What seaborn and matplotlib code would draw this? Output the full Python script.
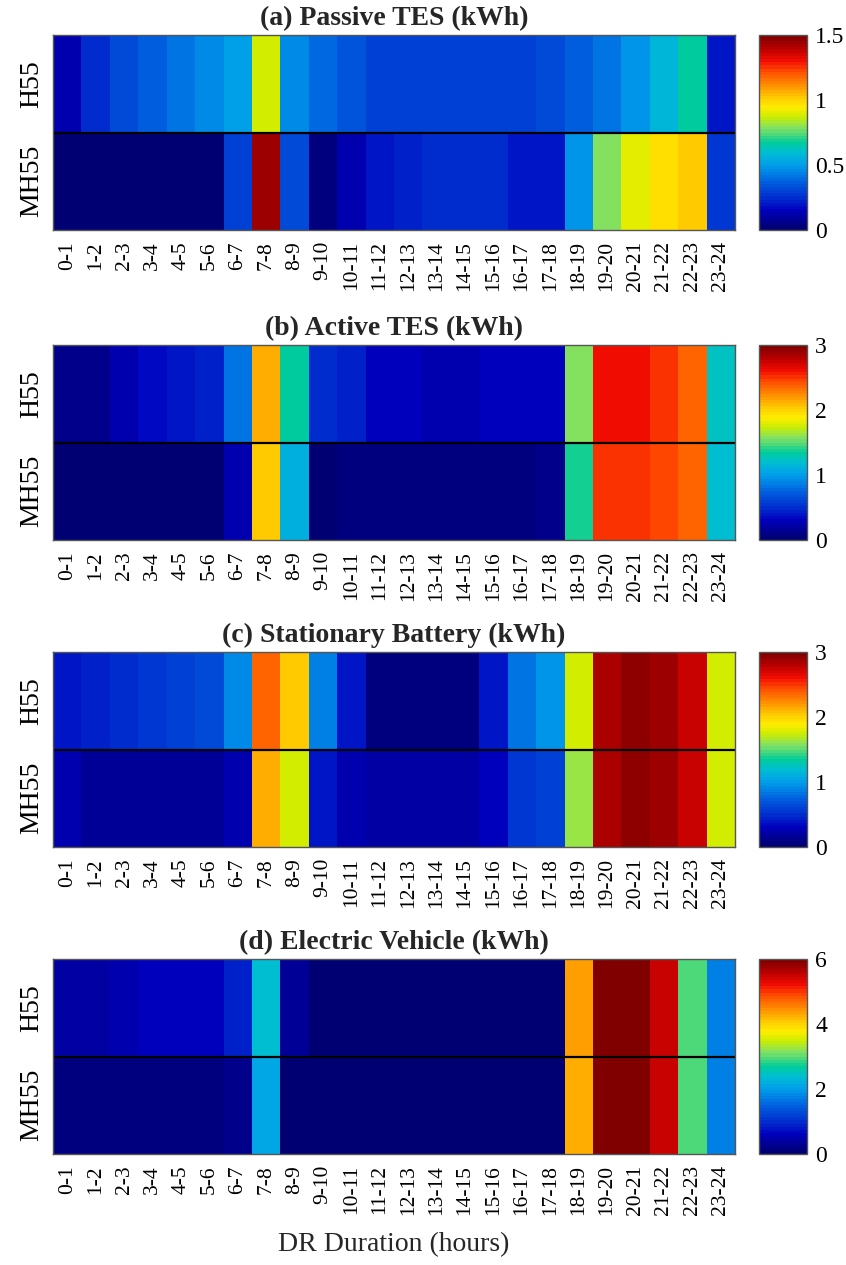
import numpy as np
import pandas as pd
import seaborn as sns
import matplotlib
matplotlib.use("Agg")
import matplotlib.pyplot as plt
from matplotlib.colors import LinearSegmentedColormap

sns.set_theme(style="white")
plt.rcParams["font.family"] = ["Liberation Serif", "DejaVu Serif"]

hours = ["0-1", "1-2", "2-3", "3-4", "4-5", "5-6", "6-7", "7-8", "8-9", "9-10",
         "10-11", "11-12", "12-13", "13-14", "14-15", "15-16", "16-17", "17-18",
         "18-19", "19-20", "20-21", "21-22", "22-23", "23-24"]
cases = ["H55", "MH55"]

passive_h55 = [0.14, 0.24, 0.31, 0.37, 0.42, 0.46, 0.50, 0.88, 0.45, 0.38, 0.34, 0.30,
               0.29, 0.29, 0.29, 0.30, 0.30, 0.31, 0.36, 0.42, 0.47, 0.58, 0.66, 0.20]
passive_mh55 = [0.01, 0.01, 0.01, 0.01, 0.01, 0.01, 0.29, 1.45, 0.31, 0.03, 0.13, 0.20,
                0.23, 0.24, 0.25, 0.25, 0.20, 0.20, 0.47, 0.78, 0.90, 0.97, 1.03, 0.26]

active_h55 = [0.10, 0.12, 0.25, 0.35, 0.40, 0.45, 0.82, 2.15, 1.35, 0.50, 0.45, 0.30,
              0.30, 0.28, 0.28, 0.32, 0.30, 0.30, 1.56, 2.62, 2.62, 2.50, 2.35, 1.23]
active_mh55 = [0.03, 0.03, 0.03, 0.03, 0.03, 0.03, 0.28, 2.02, 1.08, 0.04, 0.05, 0.05,
               0.05, 0.06, 0.06, 0.07, 0.09, 0.10, 1.40, 2.50, 2.50, 2.47, 2.35, 1.20]

battery_h55 = [0.42, 0.45, 0.50, 0.55, 0.60, 0.65, 0.90, 2.35, 2.05, 0.85, 0.40, 0.05,
               0.05, 0.05, 0.05, 0.42, 0.80, 0.95, 1.78, 2.85, 2.93, 2.88, 2.75, 1.78]
battery_mh55 = [0.27, 0.17, 0.17, 0.17, 0.17, 0.17, 0.24, 2.15, 1.78, 0.42, 0.27, 0.19,
                0.19, 0.19, 0.19, 0.32, 0.52, 0.58, 1.62, 2.85, 2.93, 2.88, 2.75, 1.78]

ev_h55 = [0.40, 0.45, 0.50, 0.60, 0.65, 0.65, 0.85, 2.40, 0.30, 0.05, 0.05, 0.05,
          0.05, 0.05, 0.05, 0.05, 0.05, 0.05, 4.40, 6.00, 6.00, 5.50, 2.95, 1.70]
ev_mh55 = [0.15, 0.18, 0.18, 0.18, 0.18, 0.18, 0.25, 2.15, 0.05, 0.05, 0.05, 0.05,
           0.05, 0.05, 0.05, 0.05, 0.05, 0.05, 4.30, 6.00, 6.00, 5.50, 2.95, 1.70]

titles = ["(a) Passive TES (kWh)", "(b) Active TES (kWh)",
          "(c) Stationary Battery (kWh)", "(d) Electric Vehicle (kWh)"]
vmaxes = [1.5, 3, 3, 6]
cbar_ticks = [[0, 0.5, 1, 1.5], [0, 1, 2, 3], [0, 1, 2, 3], [0, 2, 4, 6]]
cbar_labels = [["0", "0.5", "1", "1.5"], ["0", "1", "2", "3"],
               ["0", "1", "2", "3"], ["0", "2", "4", "6"]]
panels = [(passive_h55, passive_mh55), (active_h55, active_mh55),
          (battery_h55, battery_mh55), (ev_h55, ev_mh55)]

# jet-like colormap, as it appears (softened) in the reference
cmap_anchors = [
    (0.00, (0.00, 0.00, 0.45)),
    (0.10, (0.00, 0.00, 0.75)),
    (0.15, (0.00, 0.15, 0.80)),
    (0.25, (0.00, 0.40, 0.88)),
    (0.33, (0.00, 0.62, 0.92)),
    (0.40, (0.00, 0.75, 0.82)),
    (0.45, (0.00, 0.80, 0.60)),
    (0.52, (0.50, 0.88, 0.40)),
    (0.58, (0.80, 0.93, 0.00)),
    (0.63, (1.00, 0.93, 0.00)),
    (0.68, (1.00, 0.80, 0.00)),
    (0.75, (1.00, 0.55, 0.00)),
    (0.82, (1.00, 0.30, 0.00)),
    (0.87, (0.95, 0.05, 0.00)),
    (0.93, (0.75, 0.00, 0.00)),
    (1.00, (0.50, 0.00, 0.00)),
]
cmap = LinearSegmentedColormap.from_list("softjet", cmap_anchors, N=64)

W, H = 846, 1265
fig = plt.figure(figsize=(W / 100, H / 100), dpi=100)

tops_px = [35, 345, 652, 959]
hm_left, hm_right = 53, 735
cb_left, cb_right = 759, 807
hm_h = 195

for i, (h55, mh55) in enumerate(panels):
    top = tops_px[i]
    bottom = 1 - (top + hm_h) / H
    ax = fig.add_axes([hm_left / W, bottom, (hm_right - hm_left) / W, hm_h / H])
    cax = fig.add_axes([cb_left / W, bottom, (cb_right - cb_left) / W, hm_h / H])
    df = pd.DataFrame([h55, mh55], index=cases, columns=hours)
    sns.heatmap(df, ax=ax, cbar_ax=cax, cmap=cmap, vmin=0, vmax=vmaxes[i],
                cbar_kws={"ticks": cbar_ticks[i]})
    ax.axhline(1, color="black", lw=1.6)
    for sp in ax.spines.values():
        sp.set_visible(True)
        sp.set_color("#555555")
        sp.set_linewidth(1.0)
    ax.set_title(titles[i], fontsize=20, fontweight="bold", pad=7)
    ax.set_xlabel("")
    ax.set_ylabel("")
    ax.set_xticks(np.arange(24) + 0.5)
    ax.set_xticklabels(hours, rotation=90, fontsize=15.5)
    ax.set_yticks([0.5, 1.5])
    ax.set_yticklabels(cases, rotation=90, va="center", fontsize=20)
    ax.tick_params(axis="both", length=0, colors="black")
    ax.tick_params(axis="x", pad=8)
    ax.tick_params(axis="y", pad=6)

    cb = ax.collections[0].colorbar
    cb.outline.set_visible(True)
    cb.outline.set_edgecolor("#555555")
    cb.outline.set_linewidth(1.0)
    cb.set_ticks(cbar_ticks[i])
    cb.set_ticklabels(cbar_labels[i])
    cax.tick_params(length=0, labelsize=17, pad=6, colors="black")

fig.text((hm_left + hm_right) / 2 / W, 1 - 1245 / H, "DR Duration (hours)",
         ha="center", va="center", fontsize=20)

fig.savefig("out.png", dpi=100)
